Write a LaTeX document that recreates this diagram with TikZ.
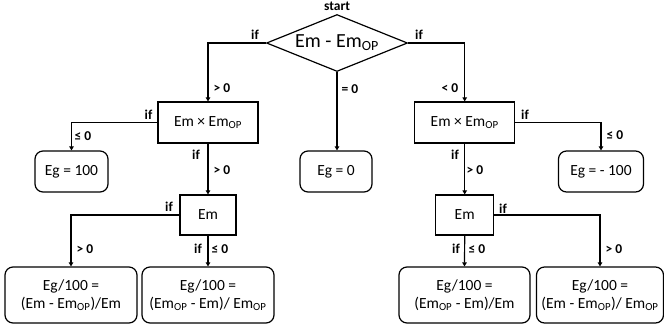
\documentclass[tikz,border=0pt]{standalone}
\usepackage{fontspec}
\setmainfont{Carlito}
\usetikzlibrary{shapes.geometric,arrows.meta}
\tikzset{
  box/.style={draw, line width=1.2pt, inner sep=1pt, align=center, font=\fontsize{15.5}{18.5}\selectfont},
  rbox/.style={box, rounded corners=8pt},
  decision/.style={draw, diamond, aspect=2.5, line width=1.2pt, inner sep=1pt, minimum width=141pt, minimum height=57pt, font=\fontsize{20}{24}\selectfont},
  lbl/.style={font=\bfseries\fontsize{13.5}{15}\selectfont, inner sep=0pt},
  conn/.style={line width=1.2pt, -{Triangle[length=4pt,width=4.5pt]}}
}
\newcommand{\OP}{\textsubscript{OP}}
\begin{document}
\begin{tikzpicture}[x=1pt,y=-1pt]
\useasboundingbox (0,0) rectangle (664,333);
% nodes
\node[decision] (d) at (337,43) {Em - Em\OP};
\node[box, minimum width=100pt, minimum height=41pt] (l1) at (208,122.5) {Em × Em\OP};
\node[rbox, minimum width=73pt, minimum height=41pt] (eg100) at (71.5,171.5) {Eg = 100};
\node[box, minimum width=56pt, minimum height=40pt] (l2) at (208,215) {Em};
\node[rbox, minimum width=132pt, minimum height=56pt] (a) at (71,295) {Eg/100 =\\(Em - Em\OP)/Em};
\node[rbox, minimum width=132pt, minimum height=56pt] (b) at (208,295) {Eg/100 =\\(Em\OP{} - Em)/ Em\OP};
\node[rbox, minimum width=72pt, minimum height=41pt] (eg0) at (336,171.5) {Eg = 0};
\node[box, minimum width=100pt, minimum height=41pt] (r1) at (464.7,122.5) {Em × Em\OP};
\node[rbox, minimum width=85pt, minimum height=41pt] (egm) at (601,171.5) {Eg = - 100};
\node[box, minimum width=58pt, minimum height=40pt] (r2) at (464.7,215) {Em};
\node[rbox, minimum width=131pt, minimum height=56pt] (c) at (464.5,295) {Eg/100 =\\(Em\OP{} - Em)/Em};
\node[rbox, minimum width=127pt, minimum height=56pt] (dd) at (600,295) {Eg/100 =\\(Em - Em\OP)/ Em\OP};
% connectors
\draw[conn] (d.west) -| (l1.north);
\draw[conn] (l1.west) -| (eg100.north);
\draw[conn] (l1.south) -- (l2.north);
\draw[conn] (l2.west) -| (a.north);
\draw[conn] (l2.south) -- (b.north);
\draw[conn] (d.south) -- (d.south |- eg0.north);
\draw[conn] (d.east) -| (r1.north);
\draw[conn] (r1.east) -| (egm.north);
\draw[conn] (r1.south) -- (r2.north);
\draw[conn] (r2.east) -| (dd.north);
\draw[conn] (r2.south) -- (c.north);
% labels
\node[lbl] (start) at (337,6) {start};
\node[lbl] (t1) at (255,35) {if};
\node[lbl] (t2) at (222,88) {> 0};
\node[lbl] (t3) at (148.5,115) {if};
\node[lbl] (t4) at (83,136) {≤ 0};
\node[lbl] (t5) at (196,155) {if};
\node[lbl] (t6) at (222,170) {> 0};
\node[lbl] (t7) at (169,207) {if};
\node[lbl] (t8) at (85,249) {> 0};
\node[lbl] (t9) at (198,249) {if};
\node[lbl] (t10) at (220,249) {≤ 0};
\node[lbl] (t11) at (350,89) {= 0};
\node[lbl] (t12) at (419,35) {if};
\node[lbl] (t13) at (450,88) {< 0};
\node[lbl] (t14) at (525,115) {if};
\node[lbl] (t15) at (615,135) {≤ 0};
\node[lbl] (t16) at (455,155) {if};
\node[lbl] (t17) at (475,170) {> 0};
\node[lbl] (t18) at (503,209) {if};
\node[lbl] (t19) at (614,249) {> 0};
\node[lbl] (t20) at (456,249) {if};
\node[lbl] (t21) at (477,249) {≤ 0};
\end{tikzpicture}
\end{document}
